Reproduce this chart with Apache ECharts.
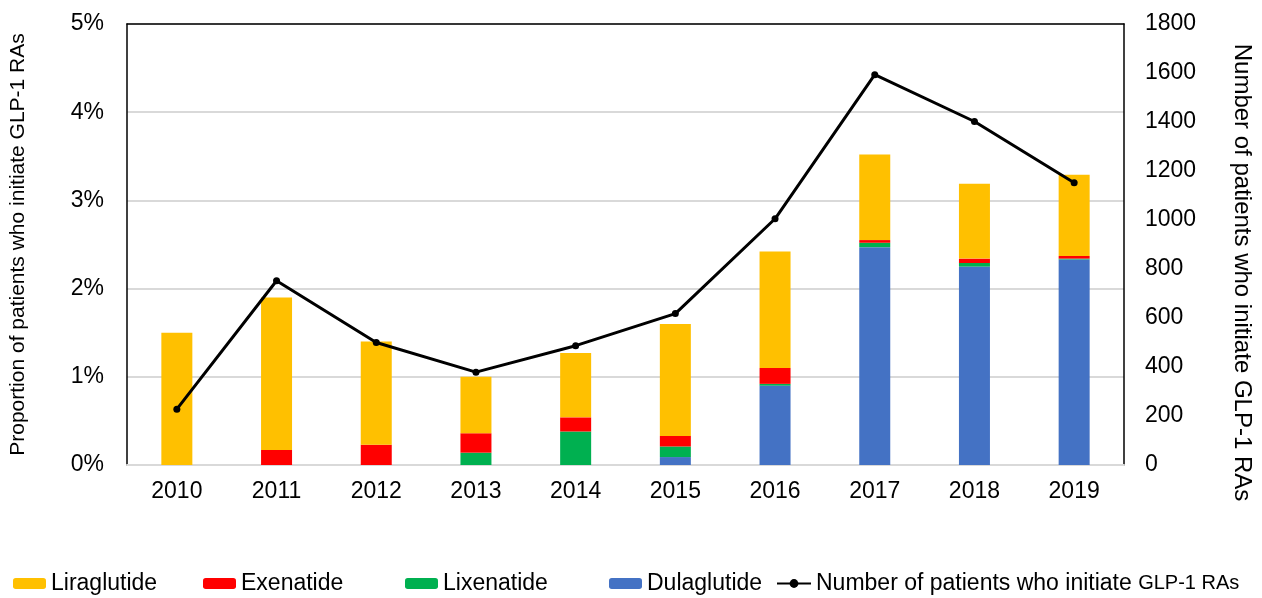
<!DOCTYPE html>
<html>
<head>
<meta charset="utf-8">
<script src="https://cdn.jsdelivr.net/npm/echarts@6/dist/echarts.min.js"></script>
<style>html,body{margin:0;padding:0;background:#fff}#c{width:1262px;height:598px}</style>
</head>
<body>
<div id="c"></div>
<script>
const years = ['2010','2011','2012','2013','2014','2015','2016','2017','2018','2019'];
// proportions in percent
const dulaglutide = [0, 0, 0, 0, 0, 0.09, 0.90, 2.47, 2.25, 2.33];
const lixenatide  = [0, 0, 0, 0.14, 0.38, 0.12, 0.02, 0.05, 0.04, 0.01];
const exenatide   = [0, 0.17, 0.23, 0.22, 0.16, 0.12, 0.18, 0.03, 0.05, 0.03];
const liraglutide = [1.50, 1.73, 1.17, 0.64, 0.73, 1.27, 1.32, 0.97, 0.85, 0.92];
const patients    = [228, 752, 500, 379, 487, 618, 1005, 1593, 1402, 1152];
const leftTicks = { min: 0, max: 5, interval: 1 };
const rightTicks = { min: 0, max: 1800, interval: 200 };

const font = 'Liberation Sans, Arial, sans-serif';
const chart = echarts.init(document.getElementById('c'));
const legendBase = {
  top: 572, padding: 0, itemWidth: 33, itemHeight: 11, itemGap: 4,
  textStyle: { fontFamily: font, fontSize: 23, color: '#000' }
};
chart.setOption({
  animation: false,
  textStyle: { fontFamily: font },
  grid: { left: 126, right: 136, top: 24, bottom: 133 },
  legend: [
    Object.assign({}, legendBase, { left: 13, data: ['Liraglutide'] }),
    Object.assign({}, legendBase, { left: 203, data: ['Exenatide'] }),
    Object.assign({}, legendBase, { left: 405, data: ['Lixenatide'] }),
    Object.assign({}, legendBase, { left: 609, data: ['Dulaglutide'] }),
    Object.assign({}, legendBase, { left: 776, itemWidth: 34, data: ['Number of patients who initiate GLP-1 RAs'],
      formatter: () => '{a|Number of patients who initiate }{b|GLP-1 RAs}',
      textStyle: { fontFamily: font, color: '#000', rich: { a: { fontSize: 23, fontFamily: font, color: '#000' }, b: { fontSize: 20, fontFamily: font, color: '#000' } } } })
  ],
  xAxis: [
    { type: 'category', data: years, axisTick: { show: false },
      axisLine: { onZero: false, lineStyle: { color: '#d9d9d9', width: 2 } },
      axisLabel: { fontSize: 23, color: '#000', margin: 15, fontFamily: font } },
    { type: 'category', data: years, position: 'top', axisTick: { show: false },
      axisLabel: { show: false }, axisLine: { onZero: false, lineStyle: { color: '#000', width: 1.5 } } }
  ],
  yAxis: [
    { type: 'value', min: leftTicks.min, max: leftTicks.max, interval: leftTicks.interval,
      name: 'Proportion of patients who initiate GLP-1 RAs', nameLocation: 'middle', nameGap: 98, nameRotate: 90,
      nameTextStyle: { fontSize: 21, color: '#000', fontFamily: font },
      axisLine: { show: true, lineStyle: { color: '#000', width: 1.5 } }, axisTick: { show: false },
      axisLabel: { formatter: '{value}%', fontSize: 23, color: '#000', margin: 23, fontFamily: font },
      splitLine: { lineStyle: { color: '#d9d9d9', width: 2 } } },
    { type: 'value', min: rightTicks.min, max: rightTicks.max, interval: rightTicks.interval, position: 'right',
      name: 'Number of patients who initiate GLP-1 RAs', nameLocation: 'middle', nameGap: 106, nameRotate: -90,
      nameTextStyle: { fontSize: 24, color: '#000', fontFamily: font, padding: [0, 0, 0, 56] },
      axisLine: { show: true, lineStyle: { color: '#000', width: 1.5 } }, axisTick: { show: false },
      axisLabel: { formatter: v => String(v), fontSize: 23, color: '#000', margin: 21, fontFamily: font },
      splitLine: { show: false } }
  ],
  series: [
    { name: 'Dulaglutide', type: 'bar', stack: 's', data: dulaglutide, barWidth: 31, itemStyle: { color: '#4472C4' } },
    { name: 'Lixenatide', type: 'bar', stack: 's', data: lixenatide, barWidth: 31, itemStyle: { color: '#00B050' } },
    { name: 'Exenatide', type: 'bar', stack: 's', data: exenatide, barWidth: 31, itemStyle: { color: '#FF0000' } },
    { name: 'Liraglutide', type: 'bar', stack: 's', data: liraglutide, barWidth: 31, itemStyle: { color: '#FFC000' } },
    { name: 'Number of patients who initiate GLP-1 RAs', type: 'line', yAxisIndex: 1, data: patients,
      symbol: 'circle', symbolSize: 7, lineStyle: { color: '#000', width: 3 }, itemStyle: { color: '#000' } }
  ]
});
</script>
</body>
</html>
